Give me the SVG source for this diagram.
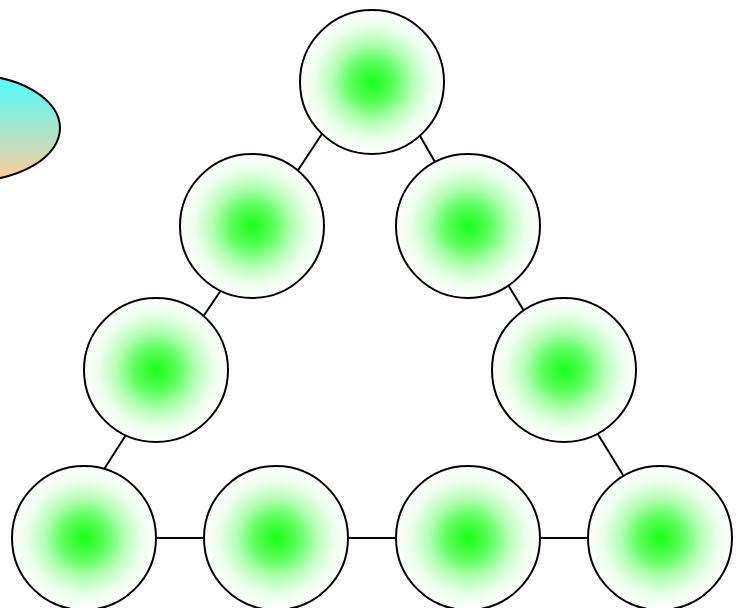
<svg xmlns="http://www.w3.org/2000/svg" width="744" height="608" viewBox="0 0 744 608">
<defs>
<radialGradient id="g" cx="50%" cy="50%" r="50%">
<stop offset="0" stop-color="#18ff18"/>
<stop offset="0.3" stop-color="#5cff5c"/>
<stop offset="0.55" stop-color="#b4ffb4"/>
<stop offset="0.8" stop-color="#ecffec"/>
<stop offset="1" stop-color="#ffffff"/>
</radialGradient>
<linearGradient id="e" x1="0" y1="0" x2="0" y2="1">
<stop offset="0" stop-color="#4dffff"/>
<stop offset="1" stop-color="#ffcc99"/>
</linearGradient>
<style>
.n{fill:url(#g);stroke:#000;stroke-width:2}
.c line{stroke:#000;stroke-width:2}
</style>
</defs>
<rect width="744" height="608" fill="#fff"/>
<g id="ellipse"><ellipse cx="-30" cy="128" rx="90" ry="53" fill="url(#e)" stroke="#000" stroke-width="2"/></g>
<g class="c" id="connectors">
<line x1="322.5" y1="133" x2="297.5" y2="171"/>
<line x1="419.5" y1="135" x2="435" y2="162"/>
<line x1="221.5" y1="289.5" x2="203.5" y2="316"/>
<line x1="507.5" y1="284" x2="524" y2="311"/>
<line x1="126.5" y1="434" x2="104.5" y2="468.5"/>
<line x1="596.5" y1="432" x2="623" y2="475"/>
<line x1="156" y1="538" x2="204" y2="538"/>
<line x1="348" y1="538" x2="396" y2="538"/>
<line x1="540" y1="538" x2="588" y2="538"/>
</g>
<g id="n1"><circle class="n" cx="372" cy="82" r="72"/></g>
<g id="n2"><circle class="n" cx="252" cy="226" r="72"/></g>
<g id="n3"><circle class="n" cx="468" cy="226" r="72"/></g>
<g id="n4"><circle class="n" cx="156" cy="370" r="72"/></g>
<g id="n5"><circle class="n" cx="564" cy="370" r="72"/></g>
<g id="n6"><circle class="n" cx="84" cy="538" r="72"/></g>
<g id="n7"><circle class="n" cx="276" cy="538" r="72"/></g>
<g id="n8"><circle class="n" cx="468" cy="538" r="72"/></g>
<g id="n9"><circle class="n" cx="660" cy="538" r="72"/></g>
</svg>
